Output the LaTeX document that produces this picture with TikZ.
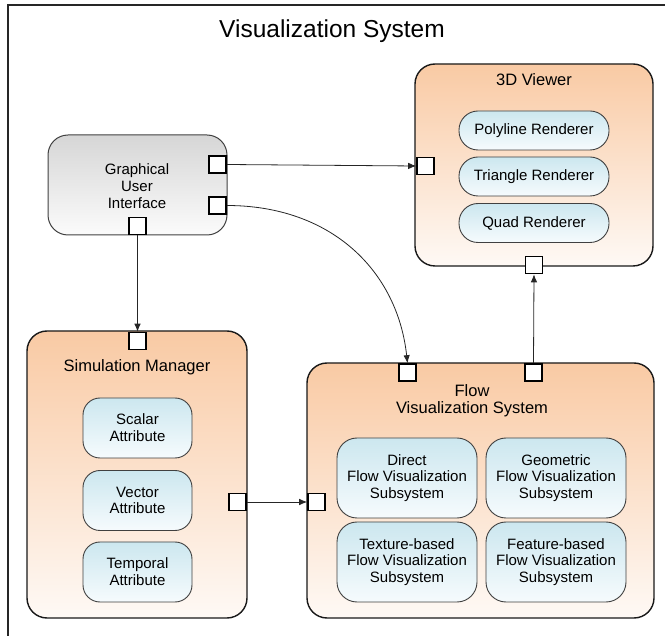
\documentclass[tikz,border=0pt]{standalone}
\usepackage{fontspec}
\setmainfont{Liberation Sans}
\usetikzlibrary{arrows.meta}

\definecolor{boxtop}{RGB}{249,202,164}
\definecolor{boxbot}{RGB}{254,249,245}
\definecolor{pilltop}{RGB}{204,231,239}
\definecolor{pillbot}{RGB}{246,251,253}
\definecolor{guitop}{RGB}{214,214,214}
\definecolor{guibot}{RGB}{251,251,251}

\begin{document}
\begin{tikzpicture}[x=1pt,y=-1pt,
        box/.style={draw=black!90,line width=1.4pt,rounded corners=20pt,top color=boxtop,bottom color=boxbot},
        pill/.style={draw=black!75,line width=0.9pt,top color=pilltop,bottom color=pillbot,align=center,font=\fontsize{15}{16.8}\selectfont},
        port/.style={draw=black,fill=white,line width=1.6pt,minimum size=17pt,inner sep=0pt},
        boxtitle/.style={font=\fontsize{16.5}{17}\selectfont,align=center},
        link/.style={draw=black!85,line width=0.8pt,-{Latex[length=8pt,width=6.5pt]}}]
    \useasboundingbox (0,0) rectangle (665,636);

    % frame and title
    \draw[black!85,line width=1.8pt] (665,5) -| (8,636);
    \node[font=\fontsize{24.5}{26}\selectfont,anchor=base] (systitle) at (332,38) {Visualization System};

    % graphical user interface
    \begin{scope}[shift={(48,135)}]
        \node[draw=black!75,line width=1pt,rounded corners=20pt,top color=guitop,bottom color=guibot,
              minimum width=179pt,minimum height=100pt] (gui) at (89.5,50) {};
        \node[align=center,font=\fontsize{15}{17}\selectfont] (guitext) at (89,51) {Graphical\\User\\Interface};
        \node[port] (guiout) at (169.5,29.5) {};
        \node[port] (guicurve) at (169.5,70.5) {};
        \node[port] (guidown) at (89.5,91) {};
    \end{scope}

    % 3D viewer
    \begin{scope}[shift={(415,64)}]
        \node[box,minimum width=238pt,minimum height=202pt] (viewer) at (119,101) {};
        \node[boxtitle,anchor=base] (viewertitle) at (119,22) {3D Viewer};
        \node[pill,rounded corners=19pt,minimum width=150pt,minimum height=39pt] (polyline) at (119,66.5) {Polyline Renderer};
        \node[pill,rounded corners=19pt,minimum width=150pt,minimum height=39pt] (triangle) at (119,112.5) {Triangle Renderer};
        \node[pill,rounded corners=19pt,minimum width=150pt,minimum height=39pt] (quad) at (119,159) {Quad Renderer};
        \node[port] (viewerin) at (10.5,102) {};
        \node[port] (viewerdown) at (119,201) {};
    \end{scope}

    % simulation manager
    \begin{scope}[shift={(27,331)}]
        \node[box,minimum width=220pt,minimum height=287pt] (sim) at (110,143.5) {};
        \node[boxtitle,anchor=base] (simtitle) at (110,41) {Simulation Manager};
        \node[pill,rounded corners=17pt,minimum width=109pt,minimum height=60pt] (scalar) at (110.5,97) {Scalar\\Attribute};
        \node[pill,rounded corners=17pt,minimum width=109pt,minimum height=60pt] (vector) at (110.5,169.5) {Vector\\Attribute};
        \node[pill,rounded corners=17pt,minimum width=109pt,minimum height=60pt] (temporal) at (110.5,241) {Temporal\\Attribute};
        \node[port] (simin) at (110.5,10) {};
        \node[port] (simout) at (210.5,171) {};
    \end{scope}

    % flow visualization system
    \begin{scope}[shift={(307,363)}]
        \node[box,minimum width=347pt,minimum height=255pt] (flow) at (173.5,127.5) {};
        \node[boxtitle] (flowtitle) at (165,37.5) {Flow\\Visualization System};
        \node[pill,rounded corners=20pt,minimum width=140pt,minimum height=80pt] (direct) at (100,115) {Direct\\Flow Visualization\\Subsystem};
        \node[pill,rounded corners=20pt,minimum width=140pt,minimum height=80pt] (geometric) at (249,115) {Geometric\\Flow Visualization\\Subsystem};
        \node[pill,rounded corners=20pt,minimum width=140pt,minimum height=80pt] (texture) at (100,199) {Texture-based\\Flow Visualization\\Subsystem};
        \node[pill,rounded corners=20pt,minimum width=140pt,minimum height=80pt] (feature) at (249,199) {Feature-based\\Flow Visualization\\Subsystem};
        \node[port] (flowin) at (100.5,9.5) {};
        \node[port] (flowup) at (226.5,9.5) {};
        \node[port] (flowleft) at (9.5,139) {};
    \end{scope}

    % connections
    \draw[link] (guiout.east) -- (viewerin.west);
    \draw[link] (guicurve.east) .. controls +(105,0) and +(-10,-92) .. (flowin.north);
    \draw[link] (guidown.south) -- (simin.north);
    \draw[link] (simout.east) -- (flowleft.west);
    \draw[link] (flowup.north) -- (viewerdown.south);
\end{tikzpicture}
\end{document}
